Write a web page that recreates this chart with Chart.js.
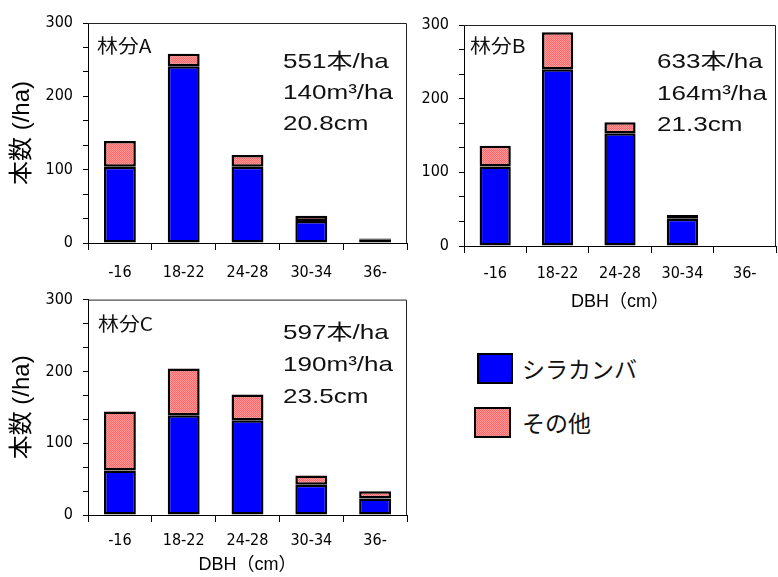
<!DOCTYPE html>
<html>
<head>
<meta charset="utf-8">
<script src="https://cdn.jsdelivr.net/npm/chart.js@4"></script>
<style>
  body { margin: 0; background: #fff; width: 778px; height: 577px; position: relative; overflow: hidden; }
  canvas { position: absolute; }
  .swatch { position: absolute; box-sizing: border-box; border: 2px solid #000; }
  .legend-text { position: absolute; left: 522px; font: 23px "Noto Sans CJK JP", sans-serif; line-height: 23px; color: #111; white-space: nowrap; }
</style>
</head>
<body>
<canvas id="chartA" width="420" height="290" style="left:0;top:0"></canvas>
<canvas id="chartB" width="358" height="320" style="left:420px;top:0"></canvas>
<canvas id="chartC" width="420" height="297" style="left:0;top:280px"></canvas>
<div id="legend"></div>
<script>
const categories = ['-16', '18-22', '24-28', '30-34', '36-'];
const birchA = [104, 241, 104, 30, 5];
const otherA = [35, 17, 16, 7, 1];
const birchB = [108, 240, 153, 37, 0];
const otherB = [28, 50, 15, 5, 0];
const birchC = [62, 139, 132, 42, 23];
const otherC = [82, 65, 36, 13, 10];
const yTickLabels = [0, 100, 200, 300];
const minorPerMajor = 3;
const seriesNames = ['シラカンバ', 'その他'];
const standNames = ['林分A', '林分B', '林分C'];
const standDensity = ['551本/ha', '633本/ha', '597本/ha'];
const standVolume = ['140m³/ha', '164m³/ha', '190m³/ha'];
const standMeanDbh = ['20.8cm', '21.3cm', '23.5cm'];

Chart.defaults.color = '#000';
const tickFont = { family: '"DejaVu Sans Condensed", "Liberation Sans Narrow", "DejaVu Sans", sans-serif', size: 16 };
const BLUE = '#0000ff';

// checkered pink fill like the original hatch
const dots = (ctx) => {
    const tile = document.createElement('canvas');
    tile.width = 2; tile.height = 2;
    const g = tile.getContext('2d');
    g.fillStyle = '#ff9898';
    g.fillRect(0, 0, 2, 2);
    g.fillStyle = '#ff6868';
    g.fillRect(0, 0, 1, 1);
    g.fillRect(1, 1, 1, 1);
    return ctx.createPattern(tile, 'repeat');
};

const panelText = {
    id: 'panelText',
    afterDraw(chart, args, opts) {
        const { ctx, chartArea: a } = chart;
        ctx.save();
        ctx.strokeStyle = '#222';
        ctx.lineWidth = 1;
        ctx.beginPath();
        ctx.moveTo(a.left, a.top + 0.5);
        ctx.lineTo(a.right - 0.5, a.top + 0.5);
        ctx.lineTo(a.right - 0.5, a.bottom);
        ctx.stroke();

        ctx.fillStyle = '#111';
        ctx.textBaseline = 'alphabetic';
        const wide = (txt, x, y, font, sx) => {
            ctx.save();
            ctx.translate(x, y);
            ctx.scale(sx, 1);
            ctx.font = font;
            ctx.fillText(txt, 0, 0);
            ctx.restore();
        };
        wide(opts.name, a.left + opts.nameX, a.top + opts.nameY, '19px "Noto Sans CJK JP", sans-serif', 1.1);
        opts.lines.forEach((t, i) => {
            wide(t, a.left + opts.statX, a.top + opts.statY[i], '21px "Liberation Sans", "Noto Sans CJK JP", sans-serif', 1.24);
        });
        ctx.restore();
    }
};

const buildChart = (id, birch, other, idx, cfg) => {
    const ctx = document.getElementById(id).getContext('2d');
    return new Chart(ctx, {
        type: 'bar',
        data: {
            labels: categories,
            datasets: [
                { label: seriesNames[0], data: birch, backgroundColor: BLUE },
                { label: seriesNames[1], data: other, backgroundColor: dots(ctx) }
            ]
        },
        options: {
            responsive: false,
            animation: false,
            layout: { padding: cfg.padding },
            datasets: {
                bar: {
                    borderColor: '#000',
                    borderWidth: 2.5,
                    borderSkipped: false,
                    inflateAmount: 0,
                    categoryPercentage: 1,
                    barPercentage: 0.5
                }
            },
            plugins: {
                legend: { display: false },
                tooltip: { enabled: false },
                panelText: {
                    name: standNames[idx],
                    lines: [standDensity[idx], standVolume[idx], standMeanDbh[idx]],
                    nameX: cfg.nameX, nameY: cfg.nameY,
                    statX: cfg.statX, statY: cfg.statY
                }
            },
            scales: {
                x: {
                    stacked: true,
                    grid: { drawOnChartArea: false, tickLength: 7, color: '#000' },
                    border: { color: '#000' },
                    ticks: { font: tickFont, padding: cfg.xPad, maxRotation: 0, autoSkip: false },
                    title: {
                        display: cfg.xTitle,
                        text: 'DBH（cm）',
                        font: { family: '"Liberation Sans", "Noto Sans CJK JP", sans-serif', size: 18 },
                        padding: { top: 0, bottom: cfg.xTitlePad }
                    },
                    afterFit: s => { s.height = cfg.xHeight; }
                },
                y: {
                    stacked: true,
                    min: yTickLabels[0],
                    max: yTickLabels[yTickLabels.length - 1],
                    afterBuildTicks: s => {
                        const step = yTickLabels[1] - yTickLabels[0];
                        const n = (yTickLabels.length - 1) * minorPerMajor;
                        s.ticks = Array.from({ length: n + 1 }, (_, i) => ({ value: i * step / minorPerMajor }));
                    },
                    grid: { drawOnChartArea: false, tickLength: 5, color: '#000' },
                    border: { color: '#000' },
                    ticks: {
                        font: tickFont,
                        padding: 10,
                        callback: v => {
                            const r = Math.round(v);
                            return (Math.abs(v - r) < 1e-6 && yTickLabels.includes(r)) ? String(r) : '';
                        }
                    },
                    title: {
                        display: cfg.yTitle,
                        text: '本数 (/ha)',
                        font: { family: '"Liberation Sans", "Noto Sans CJK JP", sans-serif', size: 24 },
                        padding: { top: 8, bottom: 0 }
                    },
                    afterFit: s => { s.width = cfg.yWidth; }
                }
            }
        },
        plugins: [panelText]
    });
};

buildChart('chartA', birchA, otherA, 0, {
    padding: { top: 23, right: 13, left: 0, bottom: 0 },
    yWidth: 88, xHeight: 47, xPad: 13, xTitle: false, xTitlePad: 0, yTitle: true,
    nameX: 9, nameY: 30, statX: 195, statY: [45, 76, 107]
});
buildChart('chartB', birchB, otherB, 1, {
    padding: { top: 25, right: 2, left: 0, bottom: 0 },
    yWidth: 44, xHeight: 74, xPad: 11, xTitle: true, xTitlePad: 7, yTitle: false,
    nameX: 6, nameY: 28, statX: 193, statY: [43, 75, 106]
});
buildChart('chartC', birchC, otherC, 2, {
    padding: { top: 14, right: 13, left: 0, bottom: 0 },
    yWidth: 88, xHeight: 62, xPad: 9, xTitle: true, xTitlePad: 1, yTitle: true,
    nameX: 10, nameY: 31, statX: 195, statY: [39, 71, 103]
});

// legend
const legend = document.getElementById('legend');
const swatches = [
    { left: 477, top: 353, w: 36, h: 31, bg: BLUE },
    { left: 474, top: 407, w: 37, h: 31, bg: 'repeating-conic-gradient(#ff6868 0 25%, #ff9898 0 50%) 0 0 / 2px 2px' }
];
seriesNames.forEach((name, i) => {
    const s = swatches[i];
    const box = document.createElement('div');
    box.className = 'swatch';
    box.style.cssText = `left:${s.left}px;top:${s.top}px;width:${s.w}px;height:${s.h}px;background:${s.bg}`;
    legend.appendChild(box);
    const label = document.createElement('div');
    label.className = 'legend-text';
    label.style.top = (s.top + s.h / 2 - 12) + 'px';
    label.textContent = name;
    legend.appendChild(label);
});
</script>
</body>
</html>
